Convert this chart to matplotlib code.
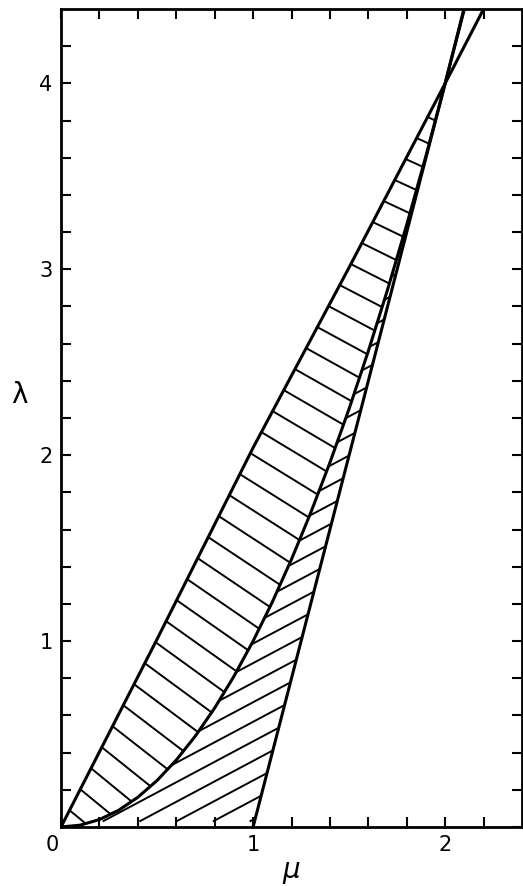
import numpy as np
import matplotlib.pyplot as plt
import matplotlib.transforms as mtransforms

# boundary curves (mu, lambda)
mu_up = [0.0, 0.5, 1.0, 1.5, 2.0, 2.2]
lam_up = [0.0, 1.01, 2.04, 3.01, 4.0, 4.4]

mu_mid = [0.0, 0.1, 0.2, 0.3, 0.4, 0.5, 0.6, 0.7, 0.8, 0.9, 1.0, 1.1, 1.2,
          1.3, 1.4, 1.5, 1.6, 1.7, 1.8, 1.9, 2.0, 2.1]
lam_mid = [0.0, 0.01, 0.04, 0.09, 0.16, 0.25, 0.36, 0.49, 0.64, 0.81, 1.0,
           1.21, 1.44, 1.69, 1.96, 2.25, 2.56, 2.89, 3.24, 3.61, 4.0, 4.41]

mu_line = [1.0, 2.1]
lam_line = [0.0, 4.4]

xticks = [0, 1, 2]
yticks = [0, 1, 2, 3, 4]

# hatch style
hatchA_anchor = [0.3, 0.7, 2.7, 3.5]
hatchA_slope = [-0.85, -0.78, -0.56, -0.47]
hatchA_start, hatchA_step = 0.09, 0.113
hatchB_slope = 0.55
hatchB_start, hatchB_step = 0.046, 0.122

fig = plt.figure(figsize=(5.23, 8.86), dpi=100)
ax = fig.add_axes([61/523, 59/886, 461/523, 818/886])

lw_curve = 2.2
lw_hatch = 1.4

# region A: between upper curve and parabola
for la in np.arange(hatchA_start, 3.97, hatchA_step):
    ma = np.interp(la, lam_up, mu_up)
    s = np.interp(la, hatchA_anchor, hatchA_slope)
    mm = np.linspace(ma, ma + 1.0, 2001)
    ll = la + s*(mm - ma)
    diff = ll - np.interp(mm, mu_mid, lam_mid)
    idx = np.where(diff <= 0)[0]
    if len(idx) == 0:
        continue
    mb = mm[idx[0]]
    ax.plot([ma, mb], [la, la + s*(mb - ma)], color='black', lw=lw_hatch,
            solid_capstyle='butt')

# region B: between parabola and straight line
for lr in np.arange(hatchB_start, 3.9, hatchB_step):
    mr = np.interp(lr, lam_line, mu_line)
    mm = np.linspace(mr, mr - 1.5, 3001)
    ll = lr + hatchB_slope*(mm - mr)
    par = np.interp(mm, mu_mid, lam_mid)
    stop = np.where((ll >= par) | (ll <= 0.03))[0]
    if len(stop) == 0:
        continue
    mb = mm[stop[0]]
    ax.plot([mr, mb], [lr, lr + hatchB_slope*(mb - mr)], color='black',
            lw=lw_hatch, solid_capstyle='butt')

ax.plot(mu_up, lam_up, color='black', lw=lw_curve)
ax.plot(mu_mid, lam_mid, color='black', lw=lw_curve)
ax.plot(mu_line, lam_line, color='black', lw=lw_curve)

ax.set_xlim(0, 2.4)
ax.set_ylim(0, 4.4)
ax.set_xticks(xticks)
ax.set_xticklabels([str(t) for t in xticks])
ax.set_yticks(yticks)
ax.set_yticklabels([''] + [str(t) for t in yticks[1:]])
ax.set_xticks(np.arange(0.2, 2.4, 0.2), minor=True)
ax.set_yticks(np.arange(0.2, 4.4, 0.2), minor=True)
ax.tick_params(which='both', direction='in', top=True, right=True,
               length=7, width=1.5, labelsize=15, pad=6)
for sp in ax.spines.values():
    sp.set_linewidth(2)

# shift the corner "0" a bit left like the original
lbl = ax.get_xticklabels()[0]
off = mtransforms.ScaledTranslation(-0.09, 0, fig.dpi_scale_trans)
lbl.set_transform(lbl.get_transform() + off)

ax.set_xlabel(r'$\mu$', fontsize=20, labelpad=2)
ax.set_ylabel('λ', fontsize=20, rotation=0, va='center', ha='center')
ax.yaxis.set_label_coords(-0.09, 0.528)

fig.savefig('out.png', dpi=100)
